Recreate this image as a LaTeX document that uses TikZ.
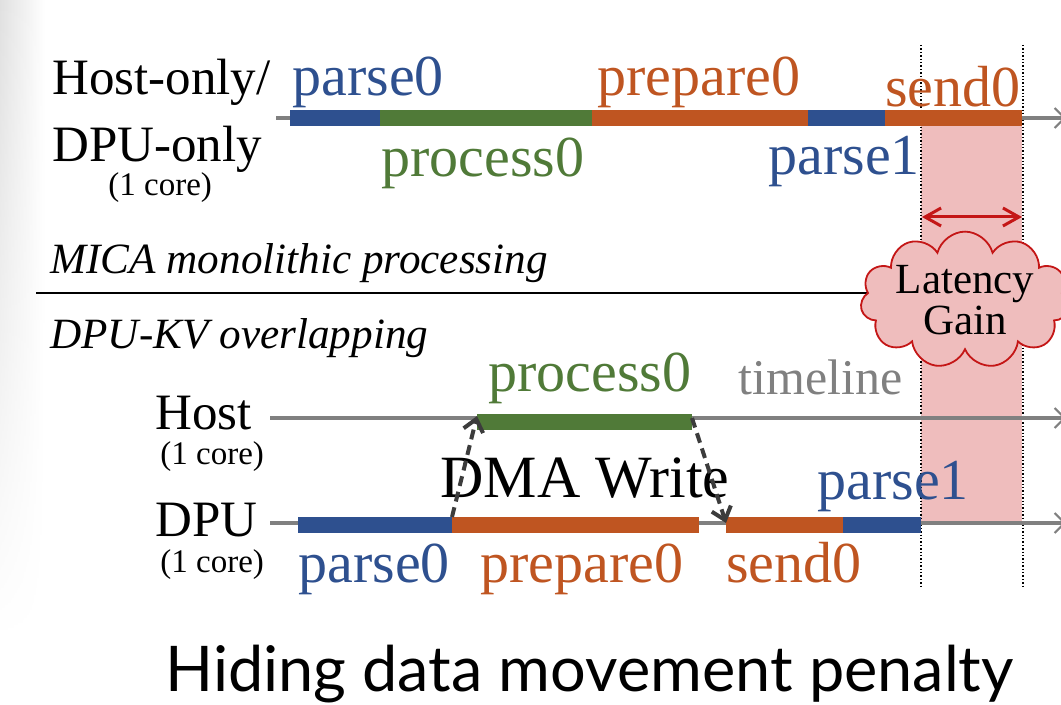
\documentclass[tikz,border=0pt]{standalone}
\usepackage{fontspec}
\setmainfont{Liberation Serif}
\newfontfamily\titlefont{Lato}
\usetikzlibrary{arrows.meta,shapes.symbols,fadings}

\definecolor{parseblue}{RGB}{46,80,143}
\definecolor{procgreen}{RGB}{80,122,56}
\definecolor{preporange}{RGB}{191,85,33}
\definecolor{linegray}{RGB}{128,128,128}
\definecolor{gainpink}{RGB}{239,189,189}
\definecolor{gainred}{RGB}{196,22,22}
\definecolor{dmagray}{RGB}{60,60,60}

\begin{document}
\begin{tikzpicture}[x=0.5pt, y=-0.5pt,
			every node/.style = {inner sep=0pt, anchor=base west},
			axis/.style = {draw=linegray, line width=2pt, -{Straight Barb[line width=1pt,length=5pt,width=10pt]}},
			bar/.style = {line width=8pt},
			task/.style = {font=\fontsize{29}{30}\selectfont},
			who/.style = {font=\fontsize{25.5}{28}\selectfont},
			core/.style = {font=\fontsize{16.5}{18}\selectfont},
			note/.style = {font=\fontsize{21.6}{24}\selectfont\itshape},
			dma/.style = {draw=dmagray, line width=2pt, dash pattern=on 5pt off 3pt, -{Straight Barb[length=6pt,width=10pt]}},
			guide/.style = {densely dotted, line width=0.7pt}]
			
			\useasboundingbox (0,0) rectangle (1061,705);
			\shade[left color=black!12, right color=white, path fading=south] (0,0) rectangle (45,640);
			
			% latency gain band
			\fill[gainpink] (921,126) rectangle (1022,523);
			\draw[guide] (921,45) -- (921,586);
			\draw[guide] (1023,45) -- (1023,586);
			
			% monolithic
			\draw[axis] (276,118) -- (1066,118);
			\draw[bar,parseblue] (290,118) -- (380,118);
			\draw[bar,procgreen] (380,118) -- (592,118);
			\draw[bar,preporange] (592,118) -- (808,118);
			\draw[bar,parseblue] (808,118) -- (885,118);
			\draw[bar,preporange] (885,118) -- (1022,118);
			
			\node[who] (hostOnly) at (52,95) {Host-only/};
			\node[who] (dpuOnly) at (52,162) {DPU-only};
			\node[core] (coreA) at (108,196) {(1 core)};
			\node[task,parseblue] (parseA) at (292,96) {parse0};
			\node[task,procgreen] (processA) at (381,177) {process0};
			\node[task,preporange] (prepareA) at (597,96) {prepare0};
			\node[task,parseblue] (parseB) at (768,175) {parse1};
			\node[task,preporange] (sendA) at (885,107) {send0};
			
			\node[note] (mica) at (50,274) {MICA monolithic processing};
			\draw[line width=1.3pt] (36,293) -- (900,293);
			\node[note] (dpukv) at (50,349) {DPU-KV overlapping};
			
			\node[cloud, draw=gainred, fill=gainpink, line width=0.9pt, cloud puffs=11, cloud ignores aspect,
				minimum width=97pt, minimum height=64pt, anchor=center, align=center,
				font=\fontsize{21.5}{20.5}\selectfont] (gain) at (965,300) {Latency\\Gain};
			\draw[gainred, line width=1.5pt, {Straight Barb[length=8pt,width=9pt]}-{Straight Barb[length=8pt,width=9pt]}] (922,217) -- (1022,217);
			
			% overlapping
			\draw[axis] (270,418) -- (1066,418);
			\draw[axis] (270,523) -- (1066,523);
			\draw[bar,procgreen] (477,422) -- (692,422);
			\draw[bar,parseblue] (298,525) -- (452,525);
			\draw[bar,preporange] (452,525) -- (699,525);
			\draw[bar,preporange] (726,525) -- (843,525);
			\draw[bar,parseblue] (843,525) -- (921,525);
			
			\node[who] (host) at (155,430) {Host};
			\node[core] (coreB) at (160,465) {(1 core)};
			\node[who] (dpu) at (155,537) {DPU};
			\node[core] (coreC) at (160,573) {(1 core)};
			
			\node[task,procgreen] (processB) at (488,392) {process0};
			\node[font=\fontsize{25}{26}\selectfont, text=linegray] (timeline) at (738,395) {timeline};
			\node[font=\fontsize{30}{32}\selectfont] (dmaw) at (440,498) {DMA Write};
			\node[task,parseblue] (parseD) at (817,500) {parse1};
			\node[task,parseblue] (parseC) at (298,583) {parse0};
			\node[task,preporange] (prepareC) at (480,583) {prepare0};
			\node[task,preporange] (sendC) at (726,582) {send0};
			
			\coordinate (dpuA) at (452,517);
			\coordinate (hostA) at (477,416);
			\coordinate (hostB) at (692,418);
			\coordinate (dpuB) at (726,523);
			\draw[dma] (dpuA) -- (hostA);
			\draw[dma] (hostB) -- (dpuB);
			
			\node[font=\titlefont\fontsize{31.5}{34}\selectfont] (title) at (165,691) {Hiding data movement penalty};
			\end{tikzpicture}
\end{document}
